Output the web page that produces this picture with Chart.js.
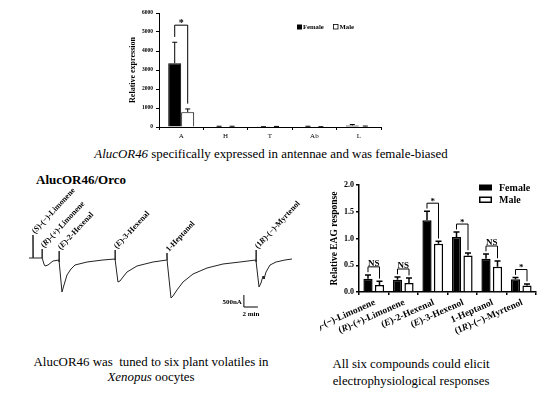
<!DOCTYPE html>
<html lang="en">
<head>
<meta charset="UTF-8">
<title>AlucOR46</title>
<script src="https://cdn.jsdelivr.net/npm/chart.js"></script>
<style>
  body {
    margin: 0;
    width: 550px;
    height: 407px;
    background: #fff;
    position: relative;
    overflow: hidden;
    font-family: "Liberation Serif", "Times New Roman", serif;
    color: #000;
  }
  .box { position: absolute; }
  .cap { position: absolute; text-align: center; white-space: nowrap; font-family: "Liberation Serif", "Times New Roman", serif; }
</style>
</head>
<body>
<div class="box" style="left:120px;top:0;width:280px;height:145px"><canvas id="expr"></canvas></div>
<div class="cap" style="left:0;width:542px;top:147px;font-size:12.9px"><i>AlucOR46</i> specifically expressed in antennae and was female-biased</div>
<div class="cap" style="left:36px;top:172px;font-size:13px;font-weight:bold;text-align:left">AlucOR46/Orco</div>
<div class="box" style="left:22px;top:180px;width:280px;height:140px"><canvas id="trace"></canvas></div>
<div class="box" style="left:320px;top:170px;width:230px;height:175px"><canvas id="eag"></canvas></div>
<div class="cap" style="left:0;width:302px;top:355px;font-size:12.9px;line-height:15px">AlucOR46 was&nbsp; tuned to six plant volatiles in<br><i>Xenopus</i> oocytes</div>
<div class="cap" style="left:311px;width:200px;top:356px;font-size:12.8px;line-height:17px">All six compounds could elicit<br>electrophysiological responses</div>

<script>
  // --- expression by tissue (qPCR) ---
  const tissues = ['A', 'H', 'T', 'Ab', 'L'];
  const femaleExpr = [3360, 30, 10, 30, 80];
  const femaleExprErr = [1100, 10, 5, 10, 50];
  const maleExpr = [780, 30, 25, 10, 40];
  const maleExprErr = [170, 10, 5, 5, 10];
  const exprSig = ['*', '', '', '', ''];

  // --- two-electrode voltage clamp trace (time in min, current in nA) ---
  const traceTime = [0, 0.57, 0.57, 0.6, 1.86, 1.86, 1.9, 2.14, 2.29, 2.71, 3.43, 4.29,
    4.29, 4.33, 4.71, 5.0, 5.43, 6.0, 6.57, 8.29, 10.57, 12.29,
    12.29, 12.33, 12.71, 13.0, 13.43, 14.0, 15.43, 17.71, 19.71,
    19.71, 19.75, 20.29, 20.57, 21.14, 22.0, 23.43, 25.43, 27.71, 30.14, 32.43,
    32.43, 32.47, 32.86, 33.14, 33.43, 33.57, 33.86, 34.43, 35.29, 36.57, 37.57];
  const traceCurrent = [0, 0, 958, 0, 0, 375, 0, -250, -333, -292, -125, -83,
    292, -167, -1417, -1125, -708, -458, -292, -167, -83, -42,
    333, -83, -1000, -958, -792, -583, -333, -167, -83,
    208, -167, -1667, -1583, -1333, -1000, -667, -417, -250, -167, -83,
    333, -167, -1208, -1042, -750, -875, -583, -292, -167, -83, -42];
  const stimuli = ['(_S_)-(−)-Limonene', '(_R_)-(+)-Limonene', '(_E_)-2-Hexenal',
    '(_E_)-3-Hexenal', '1-Heptanol', '(1_R_)-(−)-Myrtenol'];
  const stimTime = [0.57, 1.86, 4.29, 12.29, 19.71, 32.43];

  // --- EAG responses ---
  const compounds = ['(_S_)-(−)-Limonene', '(_R_)-(+)-Limonene', '(_E_)-2-Hexenal',
    '(_E_)-3-Hexenol', '1-Heptanol', '(1_R_)-(−)-Myrtenol'];
  const femaleEAG = [0.25, 0.23, 1.34, 1.03, 0.62, 0.24];
  const femaleEAGErr = [0.07, 0.05, 0.17, 0.09, 0.09, 0.03];
  const maleEAG = [0.13, 0.17, 0.90, 0.68, 0.47, 0.12];
  const maleEAGErr = [0.07, 0.09, 0.05, 0.05, 0.11, 0.03];
  const eagSig = ['NS', 'NS', '*', '*', 'NS', '*'];

  const SERIF = '"Liberation Serif", "Times New Roman", serif';
  Chart.defaults.font.family = SERIF;

  // text with _italic_ parts, drawn at the current origin
  function drawRich(ctx, str, size, align) {
    const parts = str.split('_');
    const fonts = parts.map((p, i) => (i % 2 ? 'italic bold ' : 'bold ') + size + 'px ' + SERIF);
    let total = 0;
    const widths = parts.map((p, i) => { ctx.font = fonts[i]; const w = ctx.measureText(p).width; total += w; return w; });
    let x = align === 'right' ? -total : 0;
    parts.forEach((p, i) => { ctx.font = fonts[i]; ctx.fillText(p, x, 0); x += widths[i]; });
  }

  function errorBars(errs, cap, lw) {
    return {
      id: 'errbars',
      afterDatasetsDraw(chart) {
        const ctx = chart.ctx;
        const y = chart.scales.y;
        ctx.save();
        ctx.strokeStyle = '#000';
        ctx.lineWidth = lw;
        chart.data.datasets.forEach((ds, i) => {
          chart.getDatasetMeta(i).data.forEach((bar, j) => {
            const top = y.getPixelForValue(ds.data[j] + errs[i][j]);
            ctx.beginPath();
            ctx.moveTo(bar.x, bar.y);
            ctx.lineTo(bar.x, top);
            ctx.moveTo(bar.x - cap / 2, top);
            ctx.lineTo(bar.x + cap / 2, top);
            ctx.stroke();
          });
        });
        ctx.restore();
      }
    };
  }

  function brackets(errs, sig, lift, gap, font) {
    return {
      id: 'brackets',
      afterDatasetsDraw(chart) {
        const ctx = chart.ctx;
        const y = chart.scales.y;
        const f = chart.data.datasets[0].data, m = chart.data.datasets[1].data;
        ctx.save();
        ctx.strokeStyle = '#000';
        ctx.fillStyle = '#000';
        ctx.lineWidth = 1;
        sig.forEach((s, j) => {
          if (!s) return;
          const b0 = chart.getDatasetMeta(0).data[j], b1 = chart.getDatasetMeta(1).data[j];
          const fTop = f[j] + errs[0][j], mTop = m[j] + errs[1][j];
          const yTop = y.getPixelForValue(fTop + lift);
          ctx.beginPath();
          ctx.moveTo(b0.x, y.getPixelForValue(fTop + gap));
          ctx.lineTo(b0.x, yTop);
          ctx.lineTo(b1.x, yTop);
          ctx.lineTo(b1.x, y.getPixelForValue(mTop + gap));
          ctx.stroke();
          ctx.font = 'bold ' + font + 'px ' + SERIF;
          ctx.textAlign = 'center';
          ctx.textBaseline = 'bottom';
          ctx.fillText(s, (b0.x + b1.x) / 2, yTop + (s === '*' ? 3 : 1));
        });
        ctx.restore();
      }
    };
  }

  // ---------- top: relative expression ----------
  new Chart(document.getElementById('expr'), {
    type: 'bar',
    data: {
      labels: tissues,
      datasets: [
        { label: 'Female', data: femaleExpr, backgroundColor: '#000', borderColor: '#000', borderWidth: 1 },
        { label: 'Male', data: maleExpr, backgroundColor: '#fff', borderColor: '#000', borderWidth: 1 }
      ]
    },
    options: {
      responsive: true,
      maintainAspectRatio: false,
      animation: false,
      layout: { padding: { left: 0, top: 13, right: 19, bottom: 0 } },
      datasets: { bar: { categoryPercentage: 0.585, barPercentage: 1.0 } },
      plugins: { legend: { display: false }, tooltip: { enabled: false } },
      scales: {
        x: {
          afterFit: s => { s.height = 18; },
          grid: { display: true, drawOnChartArea: false, offset: true, tickLength: 3, color: '#000' },
          border: { display: true, color: '#000', width: 1 },
          ticks: { color: '#000', padding: 2, font: { family: SERIF, size: 7 } }
        },
        y: {
          min: 0, max: 6000,
          afterFit: s => { s.width = 39; },
          grid: { display: true, drawOnChartArea: false, tickLength: 3, color: '#000' },
          border: { display: true, color: '#000', width: 1 },
          ticks: { stepSize: 1000, color: '#000', padding: 3, callback: v => String(v), font: { family: SERIF, size: 5.5, weight: 'bold' } }
        }
      }
    },
    plugins: [
      errorBars([femaleExprErr, maleExprErr], 5, 1),
      brackets([femaleExprErr, maleExprErr], exprSig, 900, 280, 10),
      {
        id: 'exprDecor',
        afterDraw(chart) {
          const ctx = chart.ctx;
          ctx.save();
          ctx.fillStyle = '#000';
          ctx.font = 'bold 8px ' + SERIF;
          ctx.textAlign = 'center';
          ctx.textBaseline = 'middle';
          ctx.translate(13, (chart.chartArea.top + chart.chartArea.bottom) / 2);
          ctx.rotate(-Math.PI / 2);
          ctx.fillText('Relative expression', 0, 0);
          ctx.restore();
          // legend
          ctx.save();
          ctx.font = 'bold 6.7px ' + SERIF;
          ctx.textBaseline = 'middle';
          ctx.fillStyle = '#000';
          ctx.fillRect(177, 24.5, 5, 5);
          ctx.fillText('Female', 183, 27);
          ctx.strokeStyle = '#000';
          ctx.lineWidth = 0.8;
          ctx.strokeRect(213.5, 24.5, 4.5, 4.5);
          ctx.fillText('Male', 219.5, 27);
          ctx.restore();
        }
      }
    ]
  });

  // ---------- middle left: current trace ----------
  new Chart(document.getElementById('trace'), {
    type: 'line',
    data: {
      datasets: [{
        data: traceTime.map((t, i) => ({ x: t, y: traceCurrent[i] })),
        borderColor: '#222',
        borderWidth: 1,
        pointRadius: 0,
        tension: 0
      }]
    },
    options: {
      responsive: true,
      maintainAspectRatio: false,
      animation: false,
      layout: { padding: 0 },
      plugins: { legend: { display: false }, tooltip: { enabled: false } },
      scales: {
        x: { type: 'linear', min: -1, max: 39, display: false },
        y: { min: -2583, max: 3250, display: false }
      }
    },
    plugins: [{
      id: 'traceDecor',
      afterDraw(chart) {
        const ctx = chart.ctx, x = chart.scales.x, y = chart.scales.y;
        ctx.save();
        ctx.fillStyle = '#000';
        ctx.textBaseline = 'alphabetic';
        stimuli.forEach((s, k) => {
          let peak = -Infinity;
          traceTime.forEach((t, i) => { if (Math.abs(t - stimTime[k]) < 0.01) peak = Math.max(peak, traceCurrent[i]); });
          ctx.save();
          ctx.translate(x.getPixelForValue(stimTime[k]) + 2, y.getPixelForValue(peak) - 1);
          ctx.rotate(-47 * Math.PI / 180);
          drawRich(ctx, s, 8, 'left');
          ctx.restore();
        });
        // scale bar: 500 nA, 2 min
        const bx = x.getPixelForValue(30.7), by0 = y.getPixelForValue(-1542), by1 = y.getPixelForValue(-2042);
        const bx1 = x.getPixelForValue(32.7);
        ctx.strokeStyle = '#000';
        ctx.lineWidth = 1;
        ctx.beginPath();
        ctx.moveTo(bx, by0);
        ctx.lineTo(bx, by1);
        ctx.lineTo(bx1, by1);
        ctx.stroke();
        ctx.font = 'bold 7px ' + SERIF;
        ctx.textAlign = 'right';
        ctx.textBaseline = 'middle';
        ctx.fillText('500nA', bx - 2, (by0 + by1) / 2 + 1);
        ctx.textAlign = 'center';
        ctx.textBaseline = 'top';
        ctx.fillText('2 min', (bx + bx1) / 2, by1 + 4);
        ctx.restore();
      }
    }]
  });

  // ---------- right: EAG ----------
  new Chart(document.getElementById('eag'), {
    type: 'bar',
    data: {
      labels: compounds,
      datasets: [
        { label: 'Female', data: femaleEAG, backgroundColor: '#000', borderColor: '#000', borderWidth: 1.5 },
        { label: 'Male', data: maleEAG, backgroundColor: '#fff', borderColor: '#000', borderWidth: 1.5 }
      ]
    },
    options: {
      responsive: true,
      maintainAspectRatio: false,
      animation: false,
      layout: { padding: { left: 0, top: 15, right: 14, bottom: 0 } },
      datasets: { bar: { categoryPercentage: 0.78, barPercentage: 0.8 } },
      plugins: { legend: { display: false }, tooltip: { enabled: false } },
      scales: {
        x: {
          afterFit: s => { s.height = 53; },
          grid: { display: true, drawOnChartArea: false, offset: true, tickLength: 3, color: '#000', lineWidth: 1.5 },
          border: { display: true, color: '#000', width: 1.5 },
          ticks: { display: false }
        },
        y: {
          min: 0, max: 2,
          afterFit: s => { s.width = 39; },
          grid: { display: true, drawOnChartArea: false, tickLength: 3, color: '#000', lineWidth: 1.5 },
          border: { display: true, color: '#000', width: 1.5 },
          ticks: { stepSize: 0.5, color: '#000', padding: 2, callback: v => v.toFixed(1), font: { family: SERIF, size: 8, weight: 'bold' } }
        }
      }
    },
    plugins: [
      errorBars([femaleEAGErr, maleEAGErr], 6, 1.5),
      brackets([femaleEAGErr, maleEAGErr], eagSig, 0.15, 0.05, 9),
      {
        id: 'eagDecor',
        afterDraw(chart) {
          const ctx = chart.ctx, xs = chart.scales.x, area = chart.chartArea;
          ctx.save();
          ctx.fillStyle = '#000';
          ctx.textBaseline = 'middle';
          compounds.forEach((c, i) => {
            ctx.save();
            ctx.translate(xs.getPixelForValue(i) + 1, area.bottom + 10);
            ctx.rotate(-24 * Math.PI / 180);
            drawRich(ctx, c, 9.5, 'right');
            ctx.restore();
          });
          ctx.save();
          ctx.font = 'bold 9.5px ' + SERIF;
          ctx.textAlign = 'center';
          ctx.translate(15, (area.top + area.bottom) / 2);
          ctx.rotate(-Math.PI / 2);
          ctx.fillText('Relative EAG response', 0, 0);
          ctx.restore();
          // legend
          ctx.font = 'bold 10px ' + SERIF;
          ctx.fillRect(159, 14.5, 13, 6);
          ctx.fillText('Female', 179, 18);
          ctx.strokeStyle = '#000';
          ctx.lineWidth = 1.5;
          ctx.strokeRect(159.75, 27.25, 11.5, 5);
          ctx.fillText('Male', 179, 30);
          ctx.restore();
        }
      }
    ]
  });
</script>
</body>
</html>
